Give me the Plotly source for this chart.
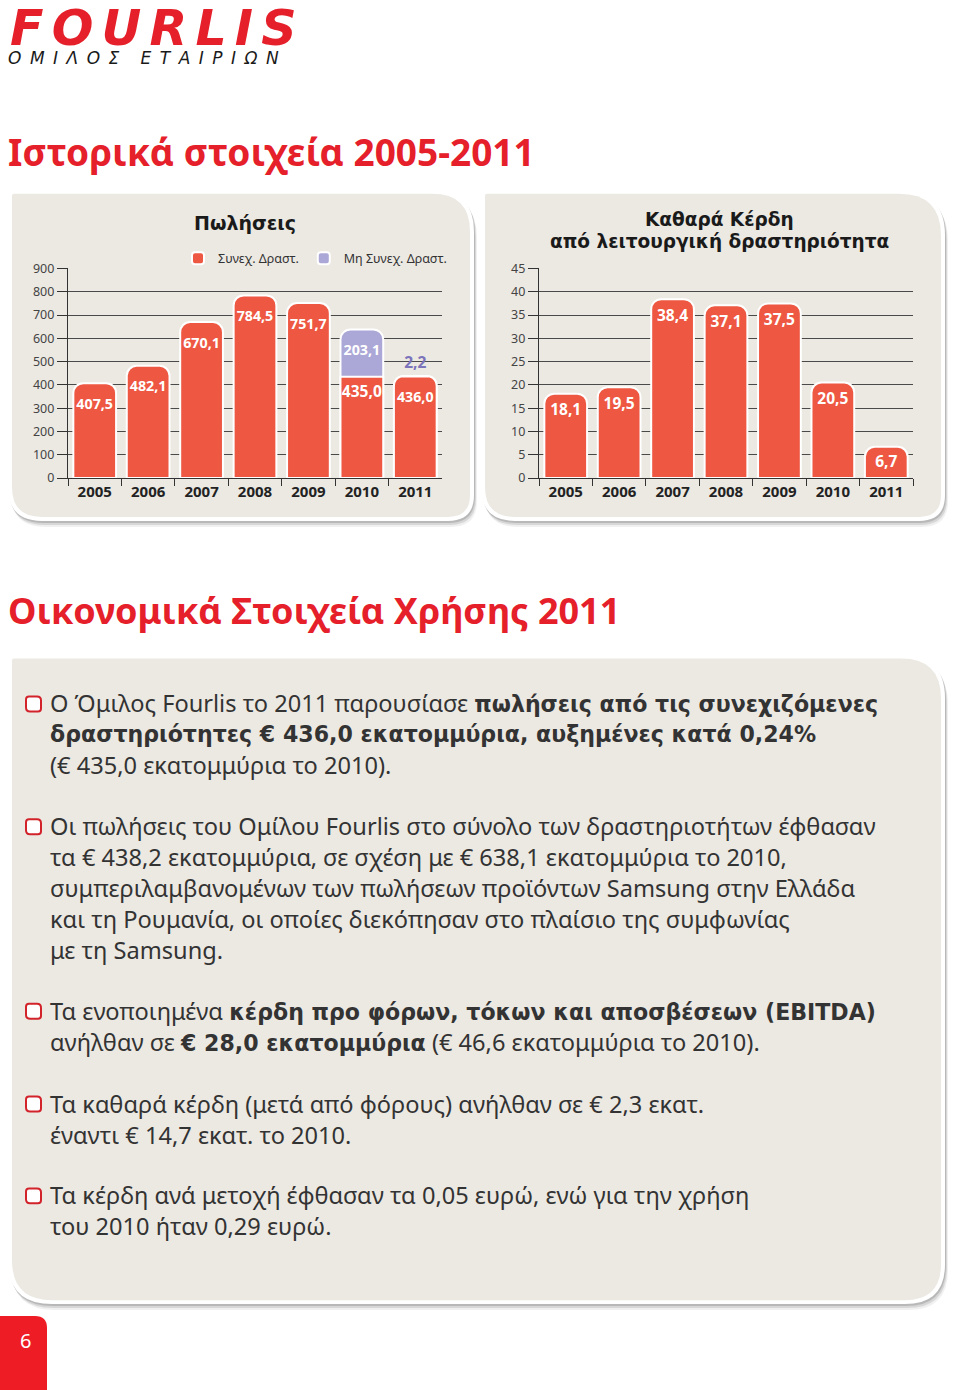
import plotly.graph_objects as go

W, H = 960, 1390
# the photographed page shows rows [-8, 1396] squeezed into 1390; compensate vertically
VS = 1390 / 1404
VO = 8 * VS


def px(x):
    return x / W


def py(y):
    return 1 - ((y - VO) / VS) / H


# ---------------- data ----------------
years = ['2005', '2006', '2007', '2008', '2009', '2010', '2011']
sales_cont = [407.5, 482.1, 670.1, 784.5, 751.7, 435.0, 436.0]
sales_disc = [None, None, None, None, None, 203.1, 2.2]
profit = [18.1, 19.5, 38.4, 37.1, 37.5, 20.5, 6.7]

sales_title = 'Πωλήσεις'
profit_title_1 = 'Καθαρά Κέρδη'
profit_title_2 = 'από λειτουργική δραστηριότητα'
legend_names = ['Συνεχ. Δραστ.', 'Μη Συνεχ. Δραστ.']

logo_text = 'FOURLIS'
logo_sub = ['ΟΜΙΛΟΣ', 'ΕΤΑΙΡΙΩΝ']
title_hist = 'Ιστορικά στοιχεία 2005-2011'
title_fin = 'Οικονομικά Στοιχεία Χρήσης 2011'
page_no = '6'

bullets = [
    ['Ο Όμιλος Fourlis το 2011 παρουσίασε <b>πωλήσεις από τις συνεχιζόμενες</b>',
     '<b>δραστηριότητες € 436,0 εκατομμύρια, αυξημένες κατά 0,24%</b>',
     '(€ 435,0 εκατομμύρια το 2010).'],
    ['Οι πωλήσεις του Ομίλου Fourlis στο σύνολο των δραστηριοτήτων έφθασαν',
     'τα € 438,2 εκατομμύρια, σε σχέση με € 638,1 εκατομμύρια το 2010,',
     'συμπεριλαμβανομένων των πωλήσεων προϊόντων Samsung στην Ελλάδα',
     'και τη Ρουμανία, οι οποίες διεκόπησαν στο πλαίσιο της συμφωνίας',
     'με τη Samsung.'],
    ['Τα ενοποιημένα <b>κέρδη προ φόρων, τόκων και αποσβέσεων (EBITDA)</b>',
     'ανήλθαν σε <b>€ 28,0 εκατομμύρια</b> (€ 46,6 εκατομμύρια το 2010).'],
    ['Τα καθαρά κέρδη (μετά από φόρους) ανήλθαν σε € 2,3 εκατ.',
     'έναντι € 14,7 εκατ. το 2010.'],
    ['Τα κέρδη ανά μετοχή έφθασαν τα 0,05 ευρώ, ενώ για την χρήση',
     'του 2010 ήταν 0,29 ευρώ.'],
]

# ---------------- style ----------------
RED = '#EE5741'
PURPLE = '#ABA7D6'
PURPLE_TXT = '#7C74BA'
BRAND = '#E5202A'
PANEL = '#ECE9E3'
FONT = 'Noto Sans'
HEAVY = 'DejaVu Sans'
BOLD_OPEN = '<b><span style="font-family:\'DejaVu Sans\';font-size:22.1px">'
BOLD_CLOSE = '</span></b>'


def fmt(v):
    return f'{v:.1f}'.replace('.', ',')


disc_total = [c + d if d is not None else None for c, d in zip(sales_cont, sales_disc)]

fig = go.Figure()

# discontinued (behind)
fig.add_trace(go.Bar(
    x=years, y=disc_total, name=legend_names[1], legendrank=2,
    marker=dict(color=PURPLE, line=dict(color='white', width=2), cornerradius=10),
    text=[fmt(d) if d is not None else '' for d in sales_disc],
    textposition=['none' if d is None else ('inside' if d > 50 else 'outside') for d in sales_disc],
    insidetextanchor='end', constraintext='none', cliponaxis=False, textangle=0,
    textfont=dict(family=FONT, size=15.5, weight='bold',
                  color=['white' if (d is not None and d > 50) else PURPLE_TXT for d in sales_disc]),
    xaxis='x', yaxis='y', hoverinfo='skip'))

# continuing
fig.add_trace(go.Bar(
    x=years, y=sales_cont, name=legend_names[0], legendrank=1,
    marker=dict(color=RED, line=dict(color='white', width=2), cornerradius=10),
    text=[fmt(v) for v in sales_cont], textposition='inside', insidetextanchor='end',
    constraintext='none', textangle=0,
    textfont=dict(family=FONT, size=15.5, weight='bold', color='white'),
    xaxis='x', yaxis='y', hoverinfo='skip'))

# profit
fig.add_trace(go.Bar(
    x=years, y=profit, showlegend=False,
    marker=dict(color=RED, line=dict(color='white', width=2), cornerradius=10),
    text=[fmt(v) for v in profit], textposition='inside', insidetextanchor='end',
    constraintext='none', textangle=0,
    textfont=dict(family=FONT, size=15.5, weight='bold', color='white'),
    xaxis='x2', yaxis='y2', hoverinfo='skip'))

yax = dict(showgrid=True, gridcolor='#4a4a4a', gridwidth=1, ticks='outside', ticklen=10,
           tickcolor='#333', showline=True, linecolor='#333', linewidth=1.2,
           tickfont=dict(family=FONT, size=12.5, color='#444'), zeroline=False, fixedrange=True)
xax = dict(type='category', showline=True, linecolor='#333', linewidth=1.2, ticks='outside',
           tickson='boundaries', ticklen=7, tickcolor='#333', showgrid=False,
           tickfont=dict(family=FONT, size=15, color='#222', weight='bold'), fixedrange=True)

fig.update_layout(
    width=W, height=H, margin=dict(l=0, r=0, t=0, b=0),
    paper_bgcolor='white', plot_bgcolor='rgba(0,0,0,0)',
    barmode='overlay', bargap=0.2,
    font=dict(family=FONT, color='#333'),
    xaxis=dict(domain=[px(68), px(442)], anchor='y', **xax),
    yaxis=dict(domain=[py(478), py(268)], anchor='x', range=[0, 900], dtick=100, **yax),
    xaxis2=dict(domain=[px(539), px(913)], anchor='y2', **xax),
    yaxis2=dict(domain=[py(478), py(268)], anchor='x2', range=[0, 45], dtick=5, **yax),
    showlegend=True,
    legend=dict(orientation='h', x=px(178), y=py(243), xanchor='left', yanchor='top',
                font=dict(family=FONT, size=12.5, color='#333'), bgcolor='rgba(0,0,0,0)',
                traceorder='normal'),
)


# ---------------- shapes ----------------
def rrect(x0, y0, x1, y1, r):
    tl, tr, br, bl = r
    return (f"M {px(x0 + tl)},{py(y0)} L {px(x1 - tr)},{py(y0)} "
            f"Q {px(x1)},{py(y0)} {px(x1)},{py(y0 + tr)} "
            f"L {px(x1)},{py(y1 - br)} Q {px(x1)},{py(y1)} {px(x1 - br)},{py(y1)} "
            f"L {px(x0 + bl)},{py(y1)} Q {px(x0)},{py(y1)} {px(x0)},{py(y1 - bl)} "
            f"L {px(x0)},{py(y0 + tl)} Q {px(x0)},{py(y0)} {px(x0 + tl)},{py(y0)} Z")


shapes = []


def panel(x0, y0, x1, y1, r):
    for off, a in [(6, 0.06), (4, 0.10), (2, 0.14)]:
        shapes.append(dict(type='path', path=rrect(x0 + off * 0.5, y0 + off, x1 + off * 0.5, y1 + off, r),
                           xref='paper', yref='paper', fillcolor=f'rgba(0,0,0,{a})',
                           line=dict(width=0), layer='below'))
    shapes.append(dict(type='path', path=rrect(x0, y0, x1, y1, r), xref='paper', yref='paper',
                       fillcolor='white', line=dict(width=0), layer='below'))
    ri = tuple(max(v - 4, 0) for v in r)
    shapes.append(dict(type='path', path=rrect(x0 + 4, y0 + 4, x1 - 4, y1 - 4, ri),
                       xref='paper', yref='paper', fillcolor=PANEL, line=dict(width=0), layer='below'))


panel(8, 189, 474, 521, (6, 42, 26, 34))
panel(481, 189, 945, 521, (6, 46, 26, 34))
panel(8, 655, 945, 1306, (6, 44, 40, 44))

# page number tab
shapes.append(dict(type='path', path=rrect(0, 1318, 47, 1400, (0, 12, 0, 0)), xref='paper', yref='paper',
                   fillcolor='#EE1D25', line=dict(width=0), layer='below'))

annotations = []

# bullets + text
line_h = 31
starts = [704, 827, 1012, 1105, 1197]
for start, lines in zip(starts, bullets):
    shapes.append(dict(type='path', path=rrect(26, start - 7, 41, start + 8, (3, 4, 3, 4)),
                       xref='paper', yref='paper', fillcolor='white',
                       line=dict(color='#D2232A', width=2), layer='above'))
    for i, t in enumerate(lines):
        t = t.replace('<b>', BOLD_OPEN).replace('</b>', BOLD_CLOSE)
        annotations.append(dict(text=t, x=px(48), y=py(start + i * line_h), xref='paper', yref='paper',
                                xanchor='left', yanchor='middle', showarrow=False,
                                font=dict(family=FONT, size=23.6, color='#333')))

# logo
annotations.append(dict(text='\u2006'.join(logo_text), x=px(8), y=py(27), xref='paper', yref='paper',
                        xanchor='left', yanchor='middle', showarrow=False,
                        font=dict(family=HEAVY, size=49, color=BRAND, weight='bold', style='italic')))
sub = '\u2003\u2005'.join('\u2002'.join(list(w)) for w in logo_sub)
annotations.append(dict(text=sub, x=px(6), y=py(57), xref='paper', yref='paper', xanchor='left',
                        yanchor='middle', showarrow=False,
                        font=dict(family=HEAVY, size=17, color='#1a1a1a', style='italic')))

# section titles
annotations.append(dict(text=f'<b>{title_hist}</b>', x=px(6), y=py(151), xref='paper', yref='paper',
                        xanchor='left', yanchor='middle', showarrow=False,
                        font=dict(family=FONT, size=37, color=BRAND)))
annotations.append(dict(text=f'<b>{title_fin}</b>', x=px(6), y=py(611), xref='paper', yref='paper',
                        xanchor='left', yanchor='middle', showarrow=False,
                        font=dict(family=FONT, size=36, color=BRAND)))

# chart titles
annotations.append(dict(text=f'<b>{sales_title}</b>', x=px(245), y=py(222), xref='paper', yref='paper',
                        xanchor='center', yanchor='middle', showarrow=False,
                        font=dict(family=HEAVY, size=19, color='#1a1a1a')))
annotations.append(dict(text=f'<b>{profit_title_1}</b>', x=px(719), y=py(219), xref='paper', yref='paper',
                        xanchor='center', yanchor='middle', showarrow=False,
                        font=dict(family=HEAVY, size=18.5, color='#1a1a1a')))
annotations.append(dict(text=f'<b>{profit_title_2}</b>', x=px(719), y=py(241), xref='paper', yref='paper',
                        xanchor='center', yanchor='middle', showarrow=False,
                        font=dict(family=HEAVY, size=18.5, color='#1a1a1a')))

# page number
annotations.append(dict(text=page_no, x=px(25), y=py(1342), xref='paper', yref='paper',
                        xanchor='center', yanchor='middle', showarrow=False,
                        font=dict(family=FONT, size=20, color='white')))

fig.update_layout(shapes=shapes, annotations=annotations)

page_css = (
    "var s=document.createElement('style');"
    "s.innerHTML='html,body{margin:0 !important;padding:0 !important;overflow:hidden;}';"
    "document.head.appendChild(s);"
    "var g=document.getElementsByClassName('plotly-graph-div')[0];"
    "g.style.position='absolute';g.style.top='0px';g.style.left='0px';"
)

fig.write_html('out.html', config={'displayModeBar': False}, post_script=page_css)
